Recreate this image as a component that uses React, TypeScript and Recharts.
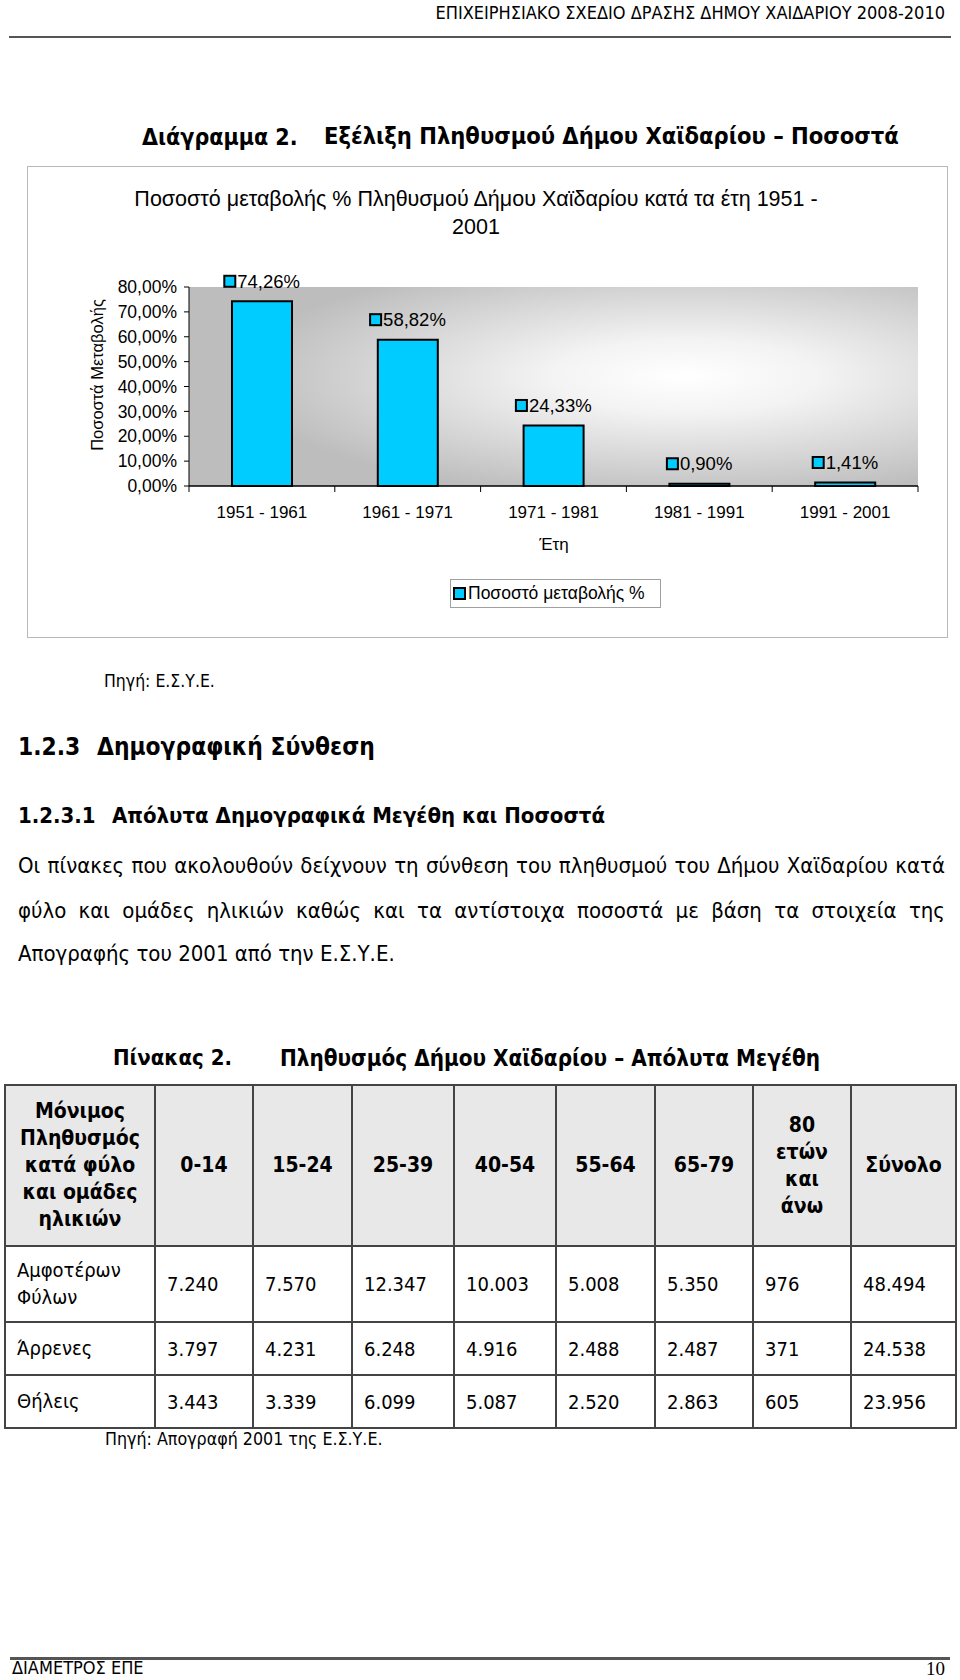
import React from "react";
import { BarChart, Bar, XAxis, YAxis, CartesianGrid, Legend, LabelList } from "recharts";

// chart data
const periods = ["1951 - 1961", "1961 - 1971", "1971 - 1981", "1981 - 1991", "1991 - 2001"];
const changePct = [74.26, 58.82, 24.33, 0.9, 1.41];
const yTicks = [0, 10, 20, 30, 40, 50, 60, 70, 80];

// table data
const firstHeader = ["Μόνιμος", "Πληθυσμός", "κατά φύλο", "και ομάδες", "ηλικιών"];
const ageGroups = ["0-14", "15-24", "25-39", "40-54", "55-64", "65-79", "80\nετών\nκαι\nάνω", "Σύνολο"];
const rowLabels = ["Αμφοτέρων\nΦύλων", "Άρρενες", "Θήλεις"];
const bothSexes = ["7.240", "7.570", "12.347", "10.003", "5.008", "5.350", "976", "48.494"];
const males = ["3.797", "4.231", "6.248", "4.916", "2.488", "2.487", "371", "24.538"];
const females = ["3.443", "3.339", "6.099", "5.087", "2.520", "2.863", "605", "23.956"];

const paraLines = [
  "Οι πίνακες που ακολουθούν δείχνουν τη σύνθεση του πληθυσμού του Δήμου Χαϊδαρίου κατά",
  "φύλο και ομάδες ηλικιών καθώς και τα αντίστοιχα ποσοστά με βάση τα στοιχεία της",
  "Απογραφής του 2001 από την Ε.Σ.Υ.Ε.",
];

const DOC = "'DejaVu Sans Condensed', 'DejaVu Sans', sans-serif";
const CHART = "'Liberation Sans', Arial, sans-serif";
const CYAN = "#00ccff";

const data = periods.map((p, i) => ({ period: p, value: changePct[i] }));
const fmt = (v: number) => v.toFixed(2).replace(".", ",") + "%";

const colWidths = [150, 98, 99, 102, 102, 99, 98, 98, 105];

function At({ x, y, right, children, style }: any) {
  const pos: any = { position: "absolute", top: y, transform: "translateY(-50%)", whiteSpace: "nowrap", lineHeight: 1 };
  if (right !== undefined) pos.right = right;
  else pos.left = x;
  return <div style={{ ...pos, ...style }}>{children}</div>;
}

function BarTag(props: any) {
  const { x, y, width, value } = props;
  const text = fmt(value);
  const cx = x + width / 2;
  const cy = y - 20;
  const tw = text.length * 10.4;
  const left = cx - (13 + tw) / 2;
  return (
    <g>
      <rect x={left} y={cy - 5.5} width={11} height={11} fill={CYAN} stroke="#000" strokeWidth={2} />
      <text x={left + 13} y={cy} dominantBaseline="central" fontSize={18.5} fontFamily={CHART} fill="#000">
        {text}
      </text>
    </g>
  );
}

function XTick(props: any) {
  const { x, y, payload, index } = props;
  const half = payload.offset ?? 72.9;
  return (
    <g>
      <line x1={x - half} x2={x - half} y1={y} y2={y + 6} stroke="#000" />
      {index === periods.length - 1 && <line x1={x + half} x2={x + half} y1={y} y2={y + 6} stroke="#000" />}
      <text x={x} y={y + 26} textAnchor="middle" dominantBaseline="central" fontSize={17} fontFamily={CHART} fill="#000">
        {payload.value}
      </text>
    </g>
  );
}

function LegendBox() {
  return (
    <div
      style={{
        width: 209,
        height: 27,
        border: "1px solid #a0a0a0",
        display: "flex",
        alignItems: "center",
        fontFamily: CHART,
        fontSize: 17.5,
        background: "#fff",
        whiteSpace: "nowrap",
      }}
    >
      <span style={{ display: "inline-block", width: 9, height: 9, background: CYAN, border: "2px solid #000", marginLeft: 2, marginRight: 2 }} />
      Ποσοστό μεταβολής %
    </div>
  );
}

export default function App() {
  return (
    <div style={{ position: "absolute", left: 0, top: 0, width: 960, height: 1680, background: "#fff", fontFamily: DOC, color: "#000", overflow: "hidden" }}>
      <At right={15} y={13} style={{ fontSize: 18 }}>ΕΠΙΧΕΙΡΗΣΙΑΚΟ ΣΧΕΔΙΟ ΔΡΑΣΗΣ ΔΗΜΟΥ ΧΑΙΔΑΡΙΟΥ 2008-2010</At>
      <div style={{ position: "absolute", left: 9, top: 36, width: 942, height: 2, background: "#555" }} />

      <At x={142} y={137} style={{ fontSize: 23, fontWeight: "bold" }}>Διάγραμμα 2.</At>
      <At x={324} y={137} style={{ fontSize: 23.5, fontWeight: "bold" }}>Εξέλιξη Πληθυσμού Δήμου Χαϊδαρίου – Ποσοστά</At>

      {/* chart frame */}
      <div style={{ position: "absolute", left: 27, top: 166, width: 919, height: 470, border: "1.5px solid #b8b8b8" }} />
      <div style={{ position: "absolute", left: 0, width: 952, top: 185, textAlign: "center", fontFamily: CHART, fontSize: 21.5, lineHeight: "28px" }}>
        Ποσοστό μεταβολής % Πληθυσμού Δήμου Χαϊδαρίου κατά τα έτη 1951 -<br />2001
      </div>
      <div
        style={{
          position: "absolute",
          left: 97,
          top: 375,
          transform: "translate(-50%, -50%) rotate(-90deg)",
          whiteSpace: "nowrap",
          fontFamily: CHART,
          fontSize: 16.5,
          lineHeight: 1,
        }}
      >
        Ποσοστά Μεταβολής
      </div>
      <At x={554} y={544} style={{ fontFamily: CHART, fontSize: 17, transform: "translate(-50%, -50%)" }}>Έτη</At>

      <div style={{ position: "absolute", left: 27, top: 166 }}>
        <BarChart width={921} height={474} data={data} margin={{ top: 121, right: 30, bottom: 0, left: 0 }}>
          <defs>
            <radialGradient id="plotBg" cx="0.68" cy="0.45" r="0.62">
              <stop offset="0" stopColor="#ffffff" />
              <stop offset="0.3" stopColor="#f3f3f3" />
              <stop offset="1" stopColor="#bdbdbd" />
            </radialGradient>
          </defs>
          <CartesianGrid horizontal={false} vertical={false} fill="url(#plotBg)" />
          <XAxis
            dataKey="period"
            interval={0}
            height={154}
            tickSize={0}
            tickMargin={0}
            tick={<XTick />}
            axisLine={{ stroke: "#000", strokeWidth: 1.5 }}
          />
          <XAxis xAxisId="top" dataKey="period" orientation="top" height={0} tick={false} tickLine={false} axisLine={{ stroke: "#8a8a8a", strokeWidth: 2.5 }} />
          <YAxis
            domain={[0, 80]}
            ticks={yTicks}
            interval={0}
            width={162}
            tickSize={5}
            tickMargin={7}
            tickFormatter={fmt}
            tick={{ fontSize: 17.5, fill: "#000", fontFamily: CHART }}
            axisLine={{ stroke: "#000" }}
            tickLine={{ stroke: "#000" }}
          />
          <YAxis yAxisId="right" orientation="right" width={0} domain={[0, 80]} tick={false} tickLine={false} axisLine={{ stroke: "#8a8a8a", strokeWidth: 2.5 }} />
          <Legend
            layout="horizontal"
            verticalAlign="middle"
            align="center"
            content={<LegendBox />}
            wrapperStyle={{ left: 423, top: 413, width: 211, height: 29 }}
          />
          <Bar dataKey="value" fill={CYAN} stroke="#000" strokeWidth={2} barSize={60} isAnimationActive={false}>
            <LabelList dataKey="value" content={<BarTag />} />
          </Bar>
        </BarChart>
      </div>

      <At x={104} y={682} style={{ fontSize: 17.5 }}>Πηγή: Ε.Σ.Υ.Ε.</At>

      <At x={18} y={747} style={{ fontSize: 24.3, fontWeight: "bold" }}>1.2.3</At>
      <At x={97} y={747} style={{ fontSize: 24.3, fontWeight: "bold" }}>Δημογραφική Σύνθεση</At>
      <At x={18} y={816} style={{ fontSize: 22, fontWeight: "bold" }}>1.2.3.1</At>
      <At x={112} y={816} style={{ fontSize: 22, fontWeight: "bold" }}>Απόλυτα Δημογραφικά Μεγέθη και Ποσοστά</At>

      {paraLines.map((line, i) => (
        <div
          key={i}
          style={{
            position: "absolute",
            left: 18,
            width: 927,
            top: [866, 911, 954][i],
            transform: "translateY(-50%)",
            fontSize: 22,
            lineHeight: 1,
            textAlign: "justify",
            textAlignLast: i < 2 ? "justify" : "left",
            whiteSpace: "nowrap",
          } as any}
        >
          {line}
        </div>
      ))}

      <At x={113} y={1058} style={{ fontSize: 22, fontWeight: "bold" }}>Πίνακας 2.</At>
      <At x={280} y={1058} style={{ fontSize: 22.3, fontWeight: "bold" }}>Πληθυσμός Δήμου Χαϊδαρίου – Απόλυτα Μεγέθη</At>

      <table
        style={{
          position: "absolute",
          left: 4,
          top: 1084,
          width: 953,
          borderCollapse: "collapse",
          tableLayout: "fixed",
          fontFamily: DOC,
          fontSize: 20,
        }}
      >
        <colgroup>
          {colWidths.map((w, i) => (
            <col key={i} style={{ width: w }} />
          ))}
        </colgroup>
        <tbody>
          <tr style={{ height: 161 }}>
            <td style={{ border: "2px solid #444", textAlign: "center", fontWeight: "bold", fontSize: 21, lineHeight: "27px", background: "#e8e8e8", padding: 0 }}>
              {firstHeader.map((l, i) => (
                <div key={i}>{l}</div>
              ))}
            </td>
            {ageGroups.map((g, i) => (
              <td
                key={i}
                style={{ border: "2px solid #444", textAlign: "center", fontWeight: "bold", fontSize: 21, lineHeight: "27px", whiteSpace: "pre-line", background: "#e8e8e8", padding: 0 }}
              >
                {g}
              </td>
            ))}
          </tr>
          {[bothSexes, males, females].map((row, r) => (
            <tr key={r} style={{ height: r === 0 ? 76 : 53 }}>
              <td style={{ border: "2px solid #444", paddingLeft: 11, whiteSpace: "pre-line", lineHeight: "27px" }}>{rowLabels[r]}</td>
              {row.map((v, i) => (
                <td key={i} style={{ border: "2px solid #444", paddingLeft: 11 }}>
                  {v}
                </td>
              ))}
            </tr>
          ))}
        </tbody>
      </table>

      <At x={105} y={1440} style={{ fontSize: 17.7 }}>Πηγή: Απογραφή 2001 της Ε.Σ.Υ.Ε.</At>

      <div style={{ position: "absolute", left: 10, top: 1657, width: 940, height: 3, background: "#555" }} />
      <At x={12} y={1668} style={{ fontSize: 18 }}>ΔΙΑΜΕΤΡΟΣ ΕΠΕ</At>
      <At right={15} y={1668} style={{ fontSize: 19, fontFamily: "'Liberation Serif', serif" }}>10</At>
    </div>
  );
}
